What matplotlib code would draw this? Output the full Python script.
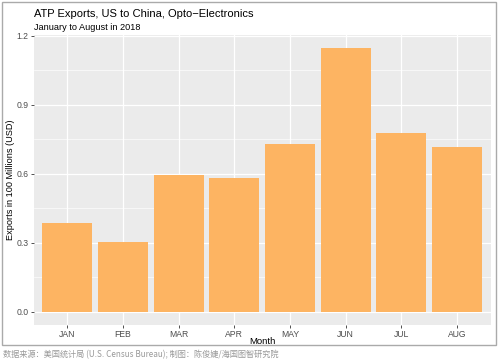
import numpy as np
import matplotlib
matplotlib.use('Agg')
import matplotlib.pyplot as plt
from matplotlib.patches import Rectangle

months = ['JAN', 'FEB', 'MAR', 'APR', 'MAY', 'JUN', 'JUL', 'AUG']
exports = [0.387, 0.302, 0.595, 0.583, 0.730, 1.148, 0.778, 0.717]
yticks = [0.0, 0.3, 0.6, 0.9, 1.2]
ytick_labels = ['0.0', '0.3', '0.6', '0.9', '1.2']

plt.rcParams['font.family'] = ['Liberation Sans', 'DejaVu Sans']

fig = plt.figure(figsize=(4.99, 3.62), dpi=100)
ax = fig.add_axes([0.068, 0.1025, 0.915, 0.8015])

x = np.arange(len(months))
ax.set_facecolor('#EBEBEB')
ax.bar(x, exports, width=0.9, color='#FDB462', zorder=3)

ymax = max(exports)
pad = ymax * 0.05
ax.set_ylim(-pad, ymax + pad)
ax.set_xlim(-0.6, len(months) - 0.4)

ax.set_yticks(yticks)
ax.set_yticklabels(ytick_labels)
ax.set_yticks([0.15, 0.45, 0.75, 1.05], minor=True)
ax.set_xticks(x)
ax.set_xticklabels(months)

ax.grid(which='major', color='white', linewidth=0.9, zorder=1)
ax.grid(which='minor', axis='y', color='white', linewidth=0.45, zorder=1)
for s in ax.spines.values():
    s.set_visible(False)
ax.tick_params(which='major', length=2.5, width=0.6, color='#333333',
               labelsize=6.2, labelcolor='#4D4D4D', pad=1.5)
ax.tick_params(which='minor', length=0)

ax.set_xlabel('Month', fontsize=6.8, va='center')
ax.xaxis.set_label_coords(0.5, -0.057)
ax.set_ylabel('Exports in 100 Millions (USD)', fontsize=6.6, va='center')
ax.yaxis.set_label_coords(-0.052, 0.5)

fig.text(0.068, 0.953, 'ATP Exports, US to China, Opto\u2212Electronics',
         fontsize=8.0, ha='left', va='baseline')
fig.text(0.068, 0.917, 'January to August in 2018', fontsize=6.6,
         ha='left', va='baseline')

# outer frame
fig.patches.append(Rectangle((0.005, 0.047), 0.989, 0.947, transform=fig.transFigure,
                             fill=False, edgecolor='#AAAAAA', linewidth=1.0))

fig.text(0.006, 0.014, '数据来源：美国统计局 (U.S. Census Bureau); 制图：陈俊婕/海国图智研究院',
         fontsize=5.9, color='#999999', ha='left', va='baseline',
         family=['Noto Sans CJK SC', 'DejaVu Sans'])

fig.savefig('out.png', dpi=100)
